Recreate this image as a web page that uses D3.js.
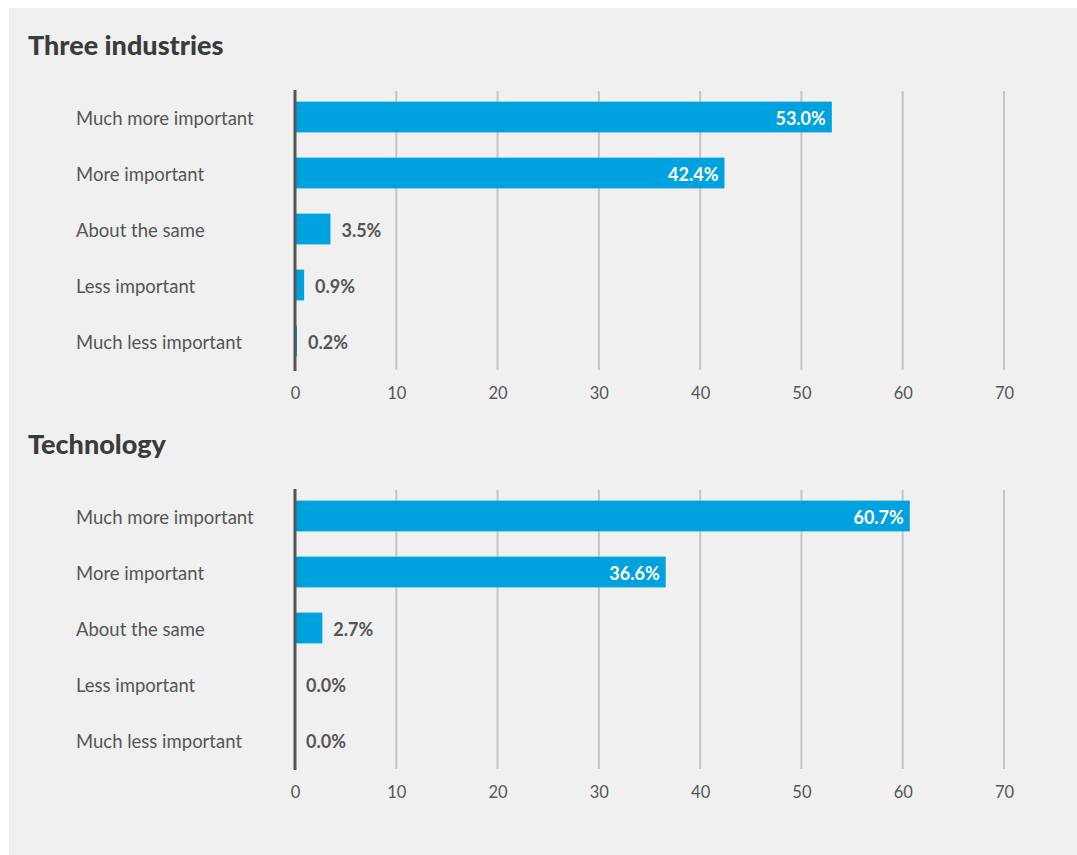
<!DOCTYPE html>
<html>
<head>
<meta charset="utf-8">
<script src="https://cdn.jsdelivr.net/npm/d3@7"></script>
<style>
  html, body { margin: 0; padding: 0; background: #ffffff; }
  svg { display: block; }
</style>
</head>
<body>
<svg id="chart" width="1077" height="855"></svg>
<script>
// Survey answers, one bar per answer, grouped in two panels
const categories = [
  "Much more important",
  "More important",
  "About the same",
  "Less important",
  "Much less important"
];
const panelTitles = ["Three industries", "Technology"];
const threeIndustries = [53.0, 42.4, 3.5, 0.9, 0.2];
const technology = [60.7, 36.6, 2.7, 0.0, 0.0];
const tickValues = [0, 10, 20, 30, 40, 50, 60, 70];

const panels = [
  { title: panelTitles[0], values: threeIndustries },
  { title: panelTitles[1], values: technology }
];

const svg = d3.select("#chart");
const FONT = "Lato, 'Noto Sans', sans-serif";
const BAR = "#00a1df";
const TEXT = "#555555";

// page panel background
svg.append("rect")
  .attr("x", 9).attr("y", 8)
  .attr("width", 1068).attr("height", 847)
  .attr("fill", "#f0f0f0");

const x = d3.scaleLinear().domain([0, 70]).range([295, 1004]);

panels.forEach((p, i) => {
  const off = i * 399;
  const g = svg.append("g").attr("transform", `translate(0,${off})`);

  const y = d3.scaleBand()
    .domain(categories)
    .range([89, 369])
    .paddingInner(0.45)
    .paddingOuter(0.225);

  g.append("text")
    .attr("x", 28).attr("y", 55)
    .attr("font-family", FONT)
    .attr("font-weight", 900)
    .attr("font-size", 27)
    .attr("fill", "#3b3b3b")
    .text(p.title);

  // vertical grid lines
  g.selectAll("line.grid")
    .data(tickValues.filter(t => t > 0))
    .join("line")
    .attr("class", "grid")
    .attr("x1", d => x(d)).attr("x2", d => x(d))
    .attr("y1", 91).attr("y2", 370)
    .attr("stroke", "#c4c4c4")
    .attr("stroke-width", 2);

  // bottom tick labels via d3 axis
  const axis = d3.axisBottom(x).tickValues(tickValues).tickSize(0).tickPadding(0);
  const ag = g.append("g")
    .attr("transform", "translate(0,384)")
    .call(axis);
  ag.select(".domain").remove();
  ag.selectAll("text")
    .attr("font-family", FONT)
    .attr("font-size", 16.5)
    .attr("fill", TEXT)
    .attr("dy", "0.9em");

  // category labels
  g.selectAll("text.cat")
    .data(categories)
    .join("text")
    .attr("class", "cat")
    .attr("x", 76)
    .attr("y", d => y(d) + y.bandwidth() / 2 + 2)
    .attr("dy", "0.35em")
    .attr("font-family", FONT)
    .attr("font-size", 18.5)
    .attr("fill", TEXT)
    .text(d => d);

  const rows = categories.map((c, k) => ({ c, v: p.values[k] }));

  g.selectAll("rect.bar")
    .data(rows)
    .join("rect")
    .attr("class", "bar")
    .attr("x", x(0))
    .attr("y", d => y(d.c))
    .attr("width", d => x(d.v) - x(0))
    .attr("height", y.bandwidth())
    .attr("fill", BAR);

  // zero axis line
  g.append("line")
    .attr("x1", x(0)).attr("x2", x(0))
    .attr("y1", 90).attr("y2", 371)
    .attr("stroke", "#555555")
    .attr("stroke-width", 3);

  // value labels: inside large bars, after small ones
  g.selectAll("text.val")
    .data(rows)
    .join("text")
    .attr("class", "val")
    .attr("x", d => d.v > 10 ? x(d.v) - 6 : x(d.v) + 11)
    .attr("y", d => y(d.c) + y.bandwidth() / 2 + 2)
    .attr("dy", "0.36em")
    .attr("text-anchor", d => d.v > 10 ? "end" : "start")
    .attr("font-family", FONT)
    .attr("font-weight", 700)
    .attr("font-size", 18)
    .attr("fill", d => d.v > 10 ? "#ffffff" : TEXT)
    .text(d => d.v.toFixed(1) + "%");
});
</script>
</body>
</html>
